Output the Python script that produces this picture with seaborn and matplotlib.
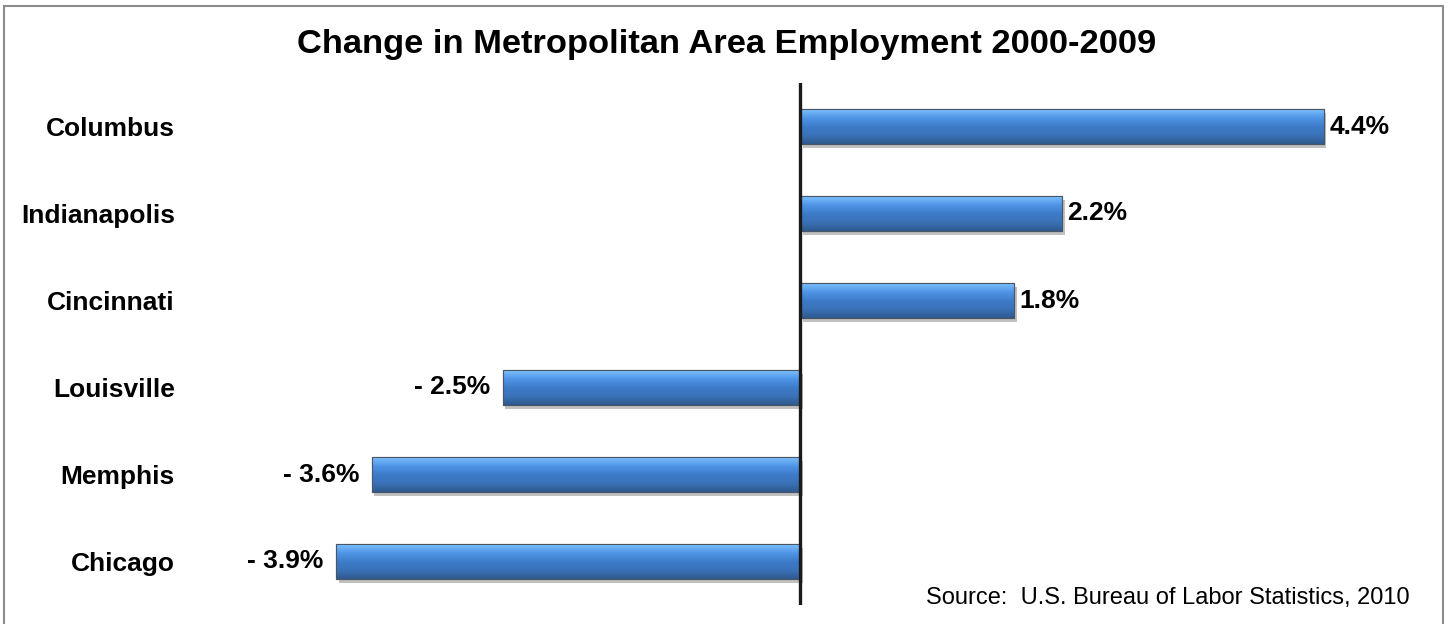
import numpy as np
import pandas as pd
import seaborn as sns
import matplotlib.pyplot as plt
from matplotlib.patches import Rectangle
import matplotlib.patheffects as pe

# =========================
# DATA
# =========================
cities = ["Columbus", "Indianapolis", "Cincinnati", "Louisville", "Memphis", "Chicago"]
change = [4.4, 2.2, 1.8, -2.5, -3.6, -3.9]

TITLE = "Change in Metropolitan Area Employment 2000-2009"
SOURCE = "Source:  U.S. Bureau of Labor Statistics, 2010"

X_MIN, X_MAX = -5.0, 5.0

df = pd.DataFrame({"city": cities, "change": change})

sns.set_theme(style="white")
plt.rcParams["font.family"] = ["Liberation Sans", "DejaVu Sans"]

fig = plt.figure(figsize=(14.5, 6.24), dpi=100)
ax = fig.add_axes([205 / 1450, 19 / 624, 1190 / 1450, 522 / 624])

sns.barplot(data=df, x="change", y="city", orient="h", color="#3d7cc9",
            width=0.4, edgecolor="#4a5566", linewidth=0.8, ax=ax)

# gradient fill + soft shadow on each bar
grad = np.linspace(0, 1, 64).reshape(-1, 1)
cmap = sns.blend_palette(["#7cc0ff", "#4f95e6", "#3d7cc9", "#3a72b8", "#2f5a8f"],
                         as_cmap=True)
for p in list(ax.patches):
    x0, y0, w, h = p.get_x(), p.get_y(), p.get_width(), p.get_height()
    im = ax.imshow(grad, cmap=cmap, aspect="auto", interpolation="bilinear",
                   extent=(x0, x0 + w, y0 + h, y0), zorder=p.get_zorder() + 0.1)
    im.set_clip_path(p)
    p.set_path_effects([pe.SimplePatchShadow(offset=(2, -3), shadow_rgbFace="#999999",
                                             alpha=0.6), pe.Normal()])
    ax.add_patch(Rectangle((x0, y0), w, h, fill=False, edgecolor="#4a5566",
                           linewidth=0.8, zorder=p.get_zorder() + 0.2))

ax.set_xlim(X_MIN, X_MAX)
ax.set_ylim(5.5, -0.5)

# value labels
for i, v in enumerate(change):
    if v >= 0:
        ax.annotate(f"{v:.1f}%", xy=(v, i), xytext=(4, 0), textcoords="offset points",
                    ha="left", va="center", fontsize=19, fontweight="bold",
                    color="black", annotation_clip=False)
    else:
        ax.annotate(f"- {abs(v):.1f}%", xy=(v, i), xytext=(-9, 0),
                    textcoords="offset points", ha="right", va="center",
                    fontsize=19, fontweight="bold", color="black",
                    annotation_clip=False)

# zero line
ax.axvline(0, color="#1a1a1a", linewidth=2.4, zorder=5, solid_capstyle="round")

for s in ax.spines.values():
    s.set_visible(False)
ax.set_xticks([])
ax.set_xlabel("")
ax.set_ylabel("")
ax.tick_params(axis="y", length=0, pad=21.6, labelsize=19)
for t in ax.get_yticklabels():
    t.set_fontweight("bold")
    t.set_color("black")

fig.text(727 / 1450, 1 - 45 / 624, TITLE, ha="center", va="center",
         fontsize=24.8, fontweight="bold", color="black")
fig.text(1410 / 1450, 1 - 598 / 624, SOURCE, ha="right", va="center",
         fontsize=17, color="black")

# outer frame
fig.patches.append(Rectangle((4 / 1450, -0.01), 1443 / 1450 - 4 / 1450, 1 - 6 / 624 + 0.01,
                             transform=fig.transFigure, fill=False,
                             edgecolor="#8c8c8c", linewidth=1.5))

plt.savefig("out.png", dpi=100)
plt.close()
